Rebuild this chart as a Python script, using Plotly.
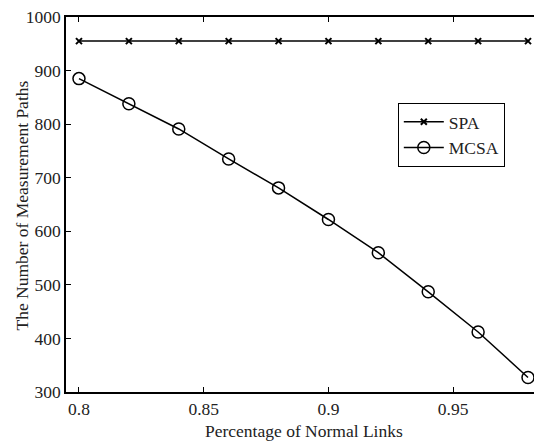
import plotly.graph_objects as go

x_vals = [0.80, 0.82, 0.84, 0.86, 0.88, 0.90, 0.92, 0.94, 0.96, 0.98]
spa = [955, 955, 955, 955, 955, 955, 955, 955, 955, 955]
mcsa = [885, 838, 791, 735, 681, 622, 560, 487, 412, 327]
x_ticks = [0.8, 0.85, 0.9, 0.95]
x_tick_text = ["0.8", "0.85", "0.9", "0.95"]
y_ticks = [300, 400, 500, 600, 700, 800, 900, 1000]
x_title = "Percentage of Normal Links"
y_title = "The Number of Measurement Paths"

FS = 17.5
txt = dict(family="Liberation Serif", size=FS, color="#222222")

fig = go.Figure()
fig.add_trace(go.Scatter(x=x_vals, y=spa, name="SPA", mode="lines+markers",
                         line=dict(color="black", width=1.5),
                         marker=dict(symbol="x-thin-open", size=6, color="black",
                                     line=dict(width=2, color="black"))))
fig.add_trace(go.Scatter(x=x_vals, y=mcsa, name="MCSA", mode="lines+markers",
                         line=dict(color="black", width=1.5),
                         marker=dict(symbol="circle-open", size=12, color="black",
                                     line=dict(width=1.5, color="black"))))

fig.update_layout(
    width=534, height=441,
    margin=dict(l=66, r=0, t=17, b=49),
    plot_bgcolor="white", paper_bgcolor="white",
    font=txt,
    showlegend=True,
    legend=dict(x=0.709, y=0.771, xanchor="left", yanchor="top",
                bordercolor="black", borderwidth=1, bgcolor="white",
                font=txt, tracegroupgap=0, itemwidth=40),
    annotations=[
        dict(text=x_title, xref="paper", yref="paper", x=0.5075, y=-0.104,
             xanchor="center", yanchor="middle", showarrow=False, font=txt),
        dict(text=y_title, xref="paper", yref="paper", x=-0.0951, y=0.4987,
             xanchor="center", yanchor="middle", showarrow=False, font=txt,
             textangle=-90),
    ],
)
fig.update_xaxes(range=[0.7948, 0.9824], tickvals=x_ticks, ticktext=x_tick_text,
                 ticks="inside", ticklen=5, tickcolor="black", tickwidth=1,
                 showline=True, linecolor="black", linewidth=1.5, mirror="ticks",
                 showgrid=False, zeroline=False, tickfont=txt)
fig.update_yaxes(range=[300, 1000], tickvals=y_ticks,
                 ticks="inside", ticklen=5, tickcolor="black", tickwidth=1,
                 showline=True, linecolor="black", linewidth=1.5, mirror=False,
                 showgrid=False, zeroline=False, tickfont=txt)

fig.write_html("out.html")
